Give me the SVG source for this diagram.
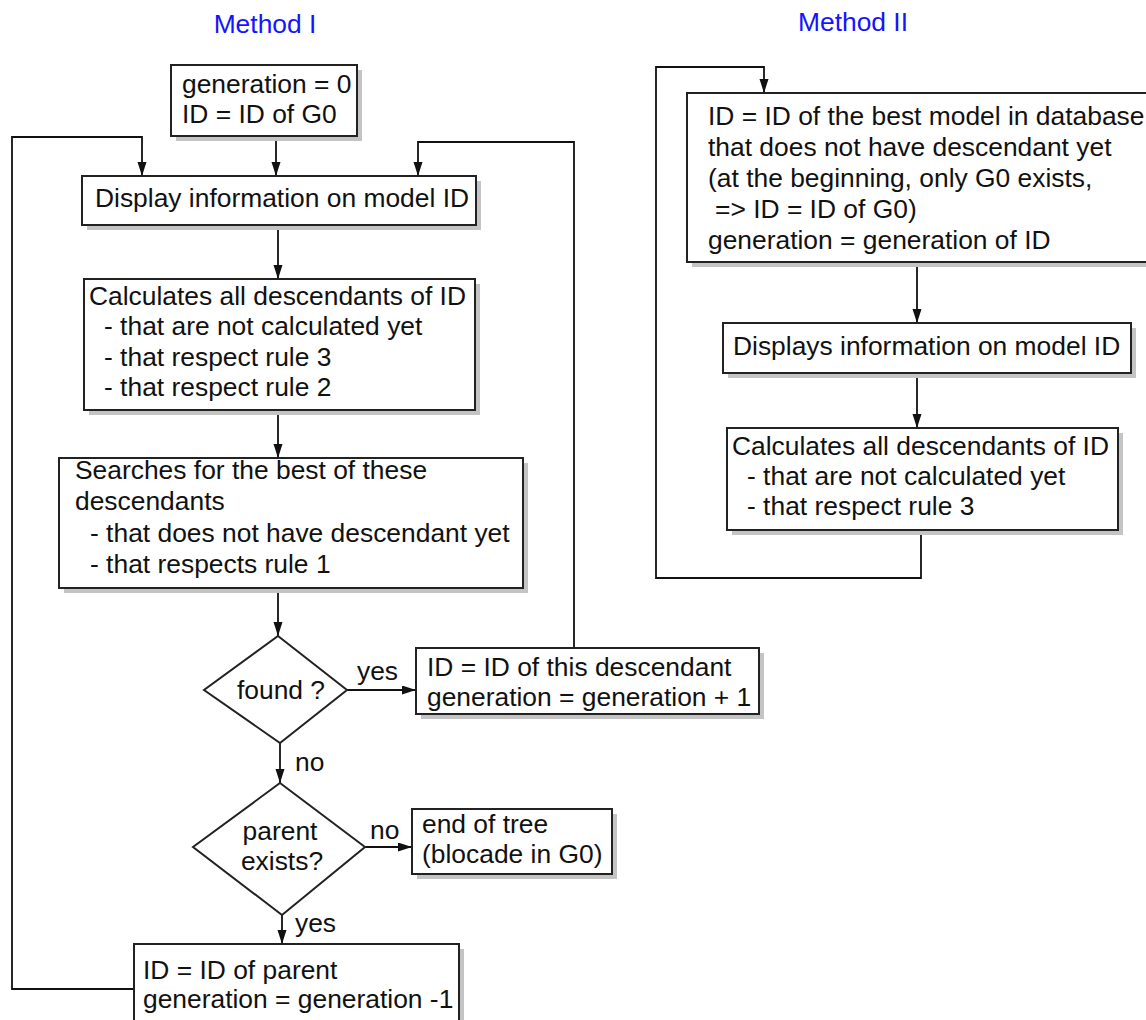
<svg xmlns="http://www.w3.org/2000/svg" width="1146" height="1020" viewBox="0 0 1146 1020">
<defs>
<style>
text{font-family:"Liberation Sans",Arial,sans-serif;font-size:26.4px;fill:#111}
.title{fill:#1414ff;text-anchor:middle}
.mid{text-anchor:middle}
.box{fill:#fff;stroke:#222;stroke-width:2}
.sh{fill:#c4c4c4}
.dia{fill:#fff;stroke:#222;stroke-width:2}
.con{fill:none;stroke:#111;stroke-width:1.8}
.arr{marker-end:url(#ah)}
</style>
<marker id="ah" markerUnits="userSpaceOnUse" markerWidth="14" markerHeight="10" refX="14" refY="4.5" orient="auto">
<path d="M0,0 L14,4.5 L0,9 z" fill="#111"/>
</marker>
</defs>
<rect width="1146" height="1020" fill="#fff"/>
<text class="title" x="265" y="33">Method I</text>
<text class="title" x="853" y="31">Method II</text>

<g id="connectors">
<path class="con arr" d="M276,136 V176"/>
<path class="con arr" d="M278,225 V279"/>
<path class="con arr" d="M278,410 V458"/>
<path class="con arr" d="M278,588 V636"/>
<path class="con arr" d="M347,690 H416"/>
<path class="con arr" d="M280,743 V783"/>
<path class="con arr" d="M365,847 H412"/>
<path class="con arr" d="M282,915 V944"/>
<path class="con arr" d="M574,648 V142 H418 V176"/>
<path class="con arr" d="M134,989 H12 V137 H142 V176"/>
<path class="con arr" d="M917,262 V323"/>
<path class="con arr" d="M917,373 V428"/>
<path class="con arr" d="M921,530 V578 H656 V67 H764 V93"/>
</g>

<g id="init">
<rect class="sh" x="176" y="70" width="186" height="71"/>
<rect class="box" x="171" y="65" width="186" height="71"/>
<text x="182" y="93">generation = 0</text>
<text x="182" y="123">ID = ID of G0</text>
</g>

<g id="display">
<rect class="sh" x="87" y="181" width="394" height="49"/>
<rect class="box" x="82" y="176" width="394" height="49"/>
<text x="95" y="207">Display information on model ID</text>
</g>

<g id="calc1">
<rect class="sh" x="89" y="284" width="391" height="131"/>
<rect class="box" x="84" y="279" width="391" height="131"/>
<text x="89" y="305">Calculates all descendants of ID</text>
<text x="104" y="335">- that are not calculated yet</text>
<text x="104" y="366">- that respect rule 3</text>
<text x="104" y="396">- that respect rule 2</text>
</g>

<g id="search">
<rect class="sh" x="64" y="463" width="464" height="130"/>
<rect class="box" x="59" y="458" width="464" height="130"/>
<text x="75" y="479">Searches for the best of these</text>
<text x="75" y="510">descendants</text>
<text x="90" y="542">- that does not have descendant yet</text>
<text x="90" y="573">- that respects rule 1</text>
</g>

<g id="found">
<polygon class="dia" points="278,636 347,690 280,743 204,690"/>
<text class="mid" x="281" y="699">found ?</text>
</g>

<g id="next">
<rect class="sh" x="421" y="653" width="343" height="66"/>
<rect class="box" x="416" y="648" width="343" height="66"/>
<text x="427" y="676">ID = ID of this descendant</text>
<text x="427" y="706">generation = generation + 1</text>
</g>

<g id="parentq">
<polygon class="dia" points="280,783 365,847 282,915 193,847"/>
<text class="mid" x="280" y="840">parent</text>
<text class="mid" x="282" y="870">exists?</text>
</g>

<g id="end">
<rect class="sh" x="417" y="814" width="200" height="65"/>
<rect class="box" x="412" y="809" width="200" height="65"/>
<text x="422" y="833">end of tree</text>
<text x="422" y="863">(blocade in G0)</text>
</g>

<g id="parent">
<rect class="sh" x="139" y="949" width="325" height="90"/>
<rect class="box" x="134" y="944" width="325" height="90"/>
<text x="143" y="979">ID = ID of parent</text>
<text x="143" y="1008">generation = generation -1</text>
</g>

<g id="labels">
<text x="357" y="680">yes</text>
<text x="295" y="771">no</text>
<text x="370" y="839">no</text>
<text x="295" y="932">yes</text>
</g>

<g id="best">
<rect class="sh" x="692" y="98" width="480" height="169"/>
<rect class="box" x="687" y="93" width="480" height="169"/>
<text x="708" y="125">ID = ID of the best model in database</text>
<text x="708" y="156">that does not have descendant yet</text>
<text x="708" y="187">(at the beginning, only G0 exists,</text>
<text x="715" y="218">=&gt; ID = ID of G0)</text>
<text x="708" y="249">generation = generation of ID</text>
</g>

<g id="display2">
<rect class="sh" x="728" y="328" width="408" height="50"/>
<rect class="box" x="723" y="323" width="408" height="50"/>
<text x="733" y="355">Displays information on model ID</text>
</g>

<g id="calc2">
<rect class="sh" x="732" y="433" width="391" height="102"/>
<rect class="box" x="727" y="428" width="391" height="102"/>
<text x="732" y="455">Calculates all descendants of ID</text>
<text x="747" y="485">- that are not calculated yet</text>
<text x="747" y="515">- that respect rule 3</text>
</g>
</svg>
